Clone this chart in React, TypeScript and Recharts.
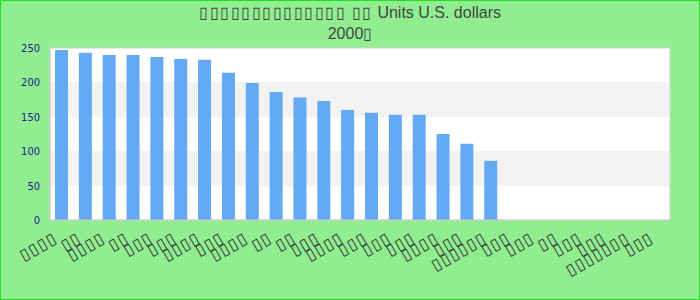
import { BarChart, Bar, XAxis, YAxis, CartesianGrid, ReferenceArea } from "recharts";

// category names only show as missing-glyph boxes in the source picture
const categories = [
  "▯▯▯▯", "▯▯", "▯▯▯▯", "▯▯", "▯▯▯", "▯▯▯", "▯▯▯▯", "▯▯▯", "▯▯▯▯",
  "▯▯", "▯▯", "▯▯▯", "▯▯▯▯", "▯▯▯", "▯▯▯", "▯▯▯", "▯▯▯▯", "▯▯▯",
  "▯▯▯▯▯▯", "▯▯▯", "▯▯▯", "▯▯", "▯▯▯", "▯▯▯", "▯▯▯▯▯▯▯", "▯▯▯",
];

const values = [
  247, 243, 240, 240, 237, 234, 233, 214, 199, 186, 178, 173, 160,
  156, 153, 153, 125, 111, 86, null, null, null, null, null, null, null,
];

const yTicks = [0, 50, 100, 150, 200, 250];

const titleBoxes = "▯▯▯▯▯▯▯▯▯▯▯▯▯▯ ▯▯";
const titleUnits = " Units U.S. dollars";
const titleYear = "2000";
const titleYearBox = "▯";

const data = categories.map((name, i) => ({ name, value: values[i] }));

const LABEL_SPACING = 1.2;

function XTick({ x, y, payload }: any) {
  const ax = x - 5 + LABEL_SPACING;
  const ay = y + 21;
  return (
    <text
      x={ax}
      y={ay}
      textAnchor="end"
      transform={`rotate(-30, ${ax}, ${ay})`}
      fontSize={16}
      letterSpacing={LABEL_SPACING}
      fontFamily="DejaVu Sans"
      fill="#333"
    >
      {payload.value}
    </text>
  );
}

export default function App() {
  return (
    <div
      style={{
        position: "absolute",
        left: 0,
        top: 0,
        width: 700,
        height: 300,
        boxSizing: "border-box",
        background: "#90ee90",
        border: "1px solid #20e020",
      }}
    >
      <div
        style={{
          position: "absolute",
          left: 0,
          top: 1,
          width: 698,
          textAlign: "center",
          fontFamily: "Liberation Sans, Arial, sans-serif",
          fontSize: 16,
          lineHeight: "21px",
          color: "#444",
        }}
      >
        <div>
          <span style={{ letterSpacing: 1.5, fontWeight: 300 }}>{titleBoxes}</span>
          {titleUnits}
        </div>
        <div>
          {titleYear}
          <span style={{ fontWeight: 300 }}>{titleYearBox}</span>
        </div>
      </div>
      <div style={{ position: "absolute", left: -1, top: -1 }}>
        <BarChart
          width={700}
          height={300}
          data={data}
          margin={{ top: 48, right: 30, bottom: 20, left: 10 }}
        >
          <CartesianGrid
            vertical={false}
            stroke="none"
            horizontalFill={["#ffffff", "#f2f2f2"]}
          />
          <XAxis
            dataKey="name"
            height={60}
            interval={0}
            tickLine={false}
            tickSize={0}
            tickMargin={0}
            axisLine={{ stroke: "#cccccc" }}
            tick={<XTick />}
          />
          <YAxis
            width={40}
            domain={[0, 250]}
            ticks={yTicks}
            tickLine={false}
            tickSize={0}
            tickMargin={10}
            axisLine={{ stroke: "#cccccc" }}
            tick={{ fontSize: 11, fill: "#20208c", fontFamily: "DejaVu Sans Condensed, DejaVu Sans", fontStretch: "condensed" }}
          />
          <ReferenceArea y1={0} y2={250} fill="none" stroke="#d0d0d0" ifOverflow="visible" />
          <Bar dataKey="value" fill="#63a9f4" barSize={13} isAnimationActive={false} />
        </BarChart>
      </div>
    </div>
  );
}
